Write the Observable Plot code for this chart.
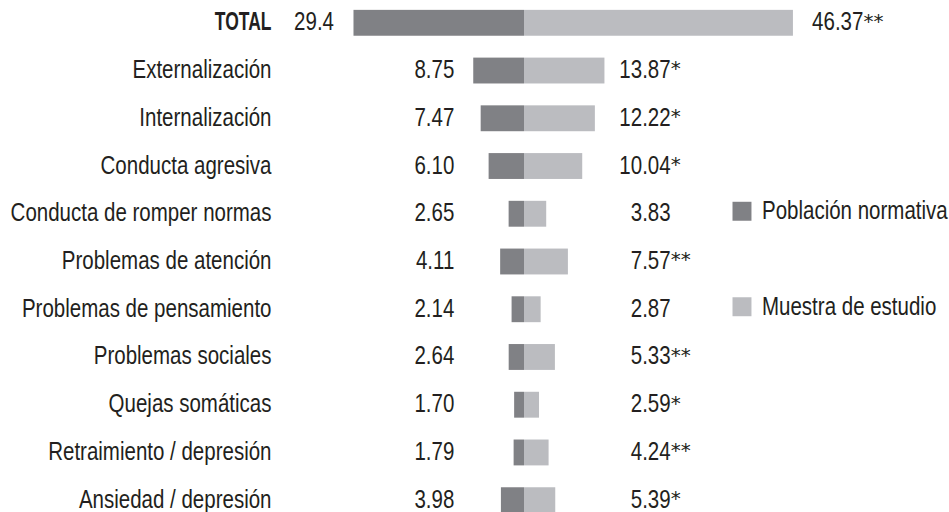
<!DOCTYPE html>
<html>
<head>
<meta charset="utf-8">
<script src="https://cdn.jsdelivr.net/npm/d3@7"></script>
<script src="https://cdn.jsdelivr.net/npm/@observablehq/plot@0.6"></script>
<style>
  html, body { margin: 0; padding: 0; background: #fff; overflow: hidden; }
  #chart svg { display: block; }
</style>
</head>
<body>
<div id="chart"></div>
<script>
const categories = ["TOTAL", "Externalización", "Internalización", "Conducta agresiva", "Conducta de romper normas", "Problemas de atención", "Problemas de pensamiento", "Problemas sociales", "Quejas somáticas", "Retraimiento / depresión", "Ansiedad / depresión"];
const normative = [29.4, 8.75, 7.47, 6.10, 2.65, 4.11, 2.14, 2.64, 1.70, 1.79, 3.98];
const study = [46.37, 13.87, 12.22, 10.04, 3.83, 7.57, 2.87, 5.33, 2.59, 4.24, 5.39];
const normativeLabels = ["29.4", "8.75", "7.47", "6.10", "2.65", "4.11", "2.14", "2.64", "1.70", "1.79", "3.98"];
const studyLabels = ["46.37", "13.87", "12.22", "10.04", "3.83", "7.57", "2.87", "5.33", "2.59", "4.24", "5.39"];
const significance = ["**", "*", "*", "*", "", "**", "", "**", "*", "**", "*"];
const legendLabels = ["Población normativa", "Muestra de estudio"];
const legendRows = ["Conducta de romper normas", "Problemas de pensamiento"];

const colors = { normative: "#808185", study: "#bbbcc0" };
const textColor = "#231f20";

const rows = categories.map((c, i) => ({
  category: c, normative: normative[i], study: study[i],
  nLabel: normativeLabels[i], sLabel: studyLabels[i], sig: significance[i],
  total: i === 0
}));
const others = rows.filter(d => !d.total);
const total = rows.filter(d => d.total);
const legend = legendLabels.map((l, i) => ({ label: l, row: legendRows[i], color: i === 0 ? colors.normative : colors.study }));

const leftColumn = -12.1;   // x position (data units) of normative values
const rightColumn = 25.2;   // x position (data units) of study values
const legendX = 37.5;

const font = "'Liberation Sans', Arial, sans-serif";
const fs = 25;
const sigFont = "DejaVu Sans";
const sigStyle = { fill: textColor, fontSize: 20, fontFamily: sigFont, dy: -2 };
const tdy = -1;

const plot = Plot.plot({
  width: 949,
  height: 512,
  marginLeft: 280,
  marginRight: 0,
  marginTop: 0,
  marginBottom: 0,
  style: { fontFamily: font, fontSize: fs + "px", color: textColor, background: "#fff" },
  x: { domain: [-42.07, 73.28], axis: null },
  y: { domain: categories, range: [-12, 535], padding: 0.458, round: false, axis: null },
  marks: [
    Plot.barX(rows, { y: "category", x1: 0, x2: d => -d.normative, fill: colors.normative, inset: 0 }),
    Plot.barX(rows, { y: "category", x1: 0, x2: "study", fill: colors.study, inset: 0 }),
    // category labels
    Plot.text(others, { y: "category", frameAnchor: "left", dx: -9, dy: tdy, text: "category", textAnchor: "end", fill: textColor, fontSize: fs }),
    Plot.text(total, { y: "category", frameAnchor: "left", dx: -9, dy: tdy, text: "category", textAnchor: "end", fill: textColor, fontSize: fs, fontWeight: "bold" }),
    // normative values
    Plot.text(others, { y: "category", x: () => leftColumn, dy: tdy, text: "nLabel", textAnchor: "end", fill: textColor, fontSize: fs }),
    Plot.text(total, { y: "category", x: d => -d.normative, dx: -20, dy: tdy, text: "nLabel", textAnchor: "end", fill: textColor, fontSize: fs }),
    // study values
    Plot.text(others, { y: "category", x: () => rightColumn, dy: tdy, text: "sLabel", textAnchor: "end", fill: textColor, fontSize: fs }),
    Plot.text(others, { y: "category", x: () => rightColumn, text: "sig", textAnchor: "start", ...sigStyle }),
    Plot.text(total, { y: "category", x: "study", dx: 70, dy: tdy, text: "sLabel", textAnchor: "end", fill: textColor, fontSize: fs }),
    Plot.text(total, { y: "category", x: "study", dx: 70, text: "sig", textAnchor: "start", ...sigStyle }),
    // legend
    Plot.dot(legend, { x: () => legendX, y: "row", dy: -3, symbol: "square", r: 10.7, fill: "color", stroke: null }),
    Plot.text(legend, { x: () => legendX, y: "row", dx: 20, dy: -3, text: "label", textAnchor: "start", fill: textColor, fontSize: fs })
  ]
});

// Emulate the condensed typeface of the original: narrow each text horizontally about its anchor
plot.querySelectorAll("text").forEach(t => {
  const fam = t.closest("[font-family]");
  if (fam && fam.getAttribute("font-family") === sigFont) return;
  const bold = t.closest("[font-weight]");
  const k = bold && bold.getAttribute("font-weight") === "bold" ? 0.7 : 0.82;
  const tr = t.getAttribute("transform") || "";
  t.setAttribute("transform", `${tr} scale(${k},1)`);
});
document.getElementById("chart").appendChild(plot);
</script>
</body>
</html>
